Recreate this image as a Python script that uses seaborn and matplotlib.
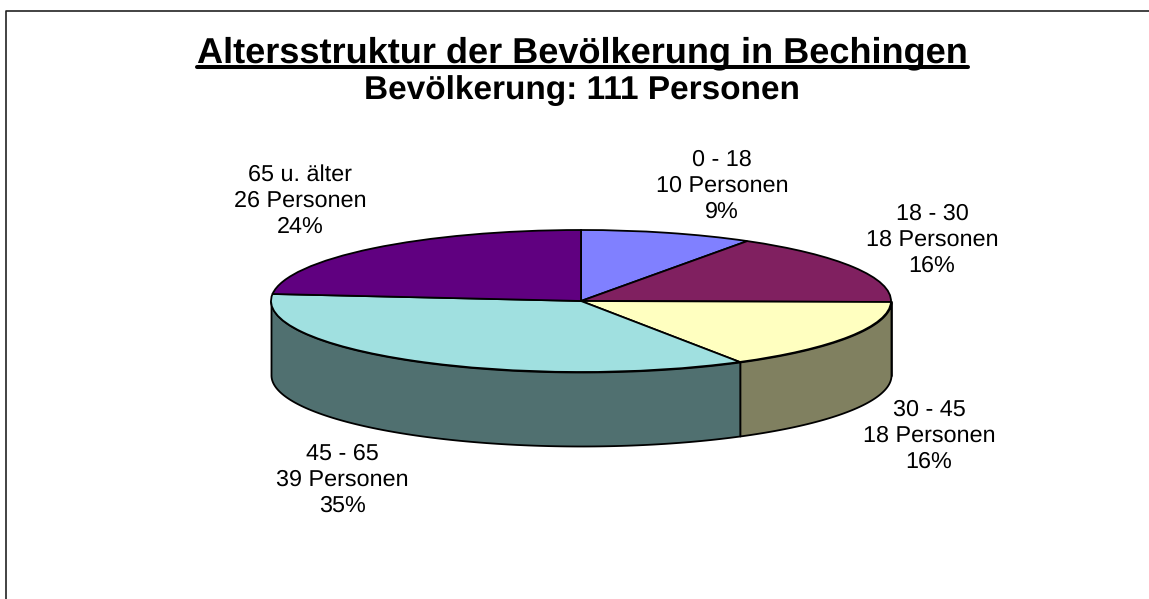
import numpy as np
import seaborn as sns
import matplotlib.pyplot as plt
from matplotlib.lines import Line2D

# data
age_groups = ["0 - 18", "18 - 30", "30 - 45", "45 - 65", "65 u. älter"]
persons = [10, 18, 18, 39, 26]
percent_labels = ["9%", "16%", "16%", "35%", "24%"]
top_colors = ["#8080FF", "#802060", "#FFFFC0", "#A0E0E0", "#600080"]

W, H = 1149, 599
CX, CY, RX, RY, DEPTH = 581, 301, 310, 71, 74
label_centers = [(722, 186), (932, 240), (929, 436), (342, 480), (300, 201)]

sns.set_theme(style="white")
plt.rcParams["font.family"] = ["Liberation Sans", "DejaVu Sans"]
plt.rcParams["text.hinting"] = "no_hinting"
palette = sns.color_palette(top_colors)


def fx(px):
    return px / W


def fy(py):
    return 1 - py / H


fig = plt.figure(figsize=(W / 100, H / 100), dpi=100)
ax = fig.add_axes([0, 0, 1, 1])

# top of the pie, clockwise from 12 o'clock
wedges, _ = ax.pie(
    persons,
    colors=palette,
    startangle=90,
    counterclock=False,
    radius=1,
    wedgeprops={"edgecolor": "black", "linewidth": 1.3, "zorder": 3},
)
ax.set_aspect("auto")
ax.set_xlim(-CX / RX, (W - CX) / RX)
ax.set_ylim(-(H - CY) / RY, CY / RY)

# side wall, only the front half is visible
depth = DEPTH / RY
edges = np.cumsum([0] + persons) / sum(persons) * 360
for i, color in enumerate(palette):
    start = max(edges[i], 90)
    stop = min(edges[i + 1], 270)
    if stop <= start:
        continue
    theta = np.radians(np.linspace(start, stop, 120))
    x = np.sin(theta)
    y = np.cos(theta)
    dark = tuple(c * 0.5 for c in color)
    ax.fill_between(x, y, y - depth, facecolor=dark, edgecolor="black",
                    linewidth=1.3, zorder=2)

# slice labels
for group, n, pct, (px, py) in zip(age_groups, persons, percent_labels, label_centers):
    fig.text(fx(px), fy(py), f"{group}\n{n} Personen\n{pct}", ha="center", va="center",
             fontsize=16.8, linespacing=1.29, color="black")

title = fig.text(fx(582.5), fy(62), "Altersstruktur der Bevölkerung in Bechingen",
                 ha="center", va="baseline", fontsize=26, fontweight="bold", color="black")
fig.text(fx(581.5), fy(99), "Bevölkerung: 111 Personen", ha="center", va="baseline",
         fontsize=24, fontweight="bold", color="black")

# underline below the title, as wide as the text
fig.canvas.draw()
box = title.get_window_extent()
fig.add_artist(Line2D([box.x0 / W, box.x1 / W], [fy(67)] * 2, color="black", linewidth=2.9))

# chart frame shows only on the top and left
fig.add_artist(Line2D([fx(6), fx(6), 1], [0, fy(11), fy(11)], color="#222222", linewidth=1.2))

fig.savefig("out.png", dpi=100)
